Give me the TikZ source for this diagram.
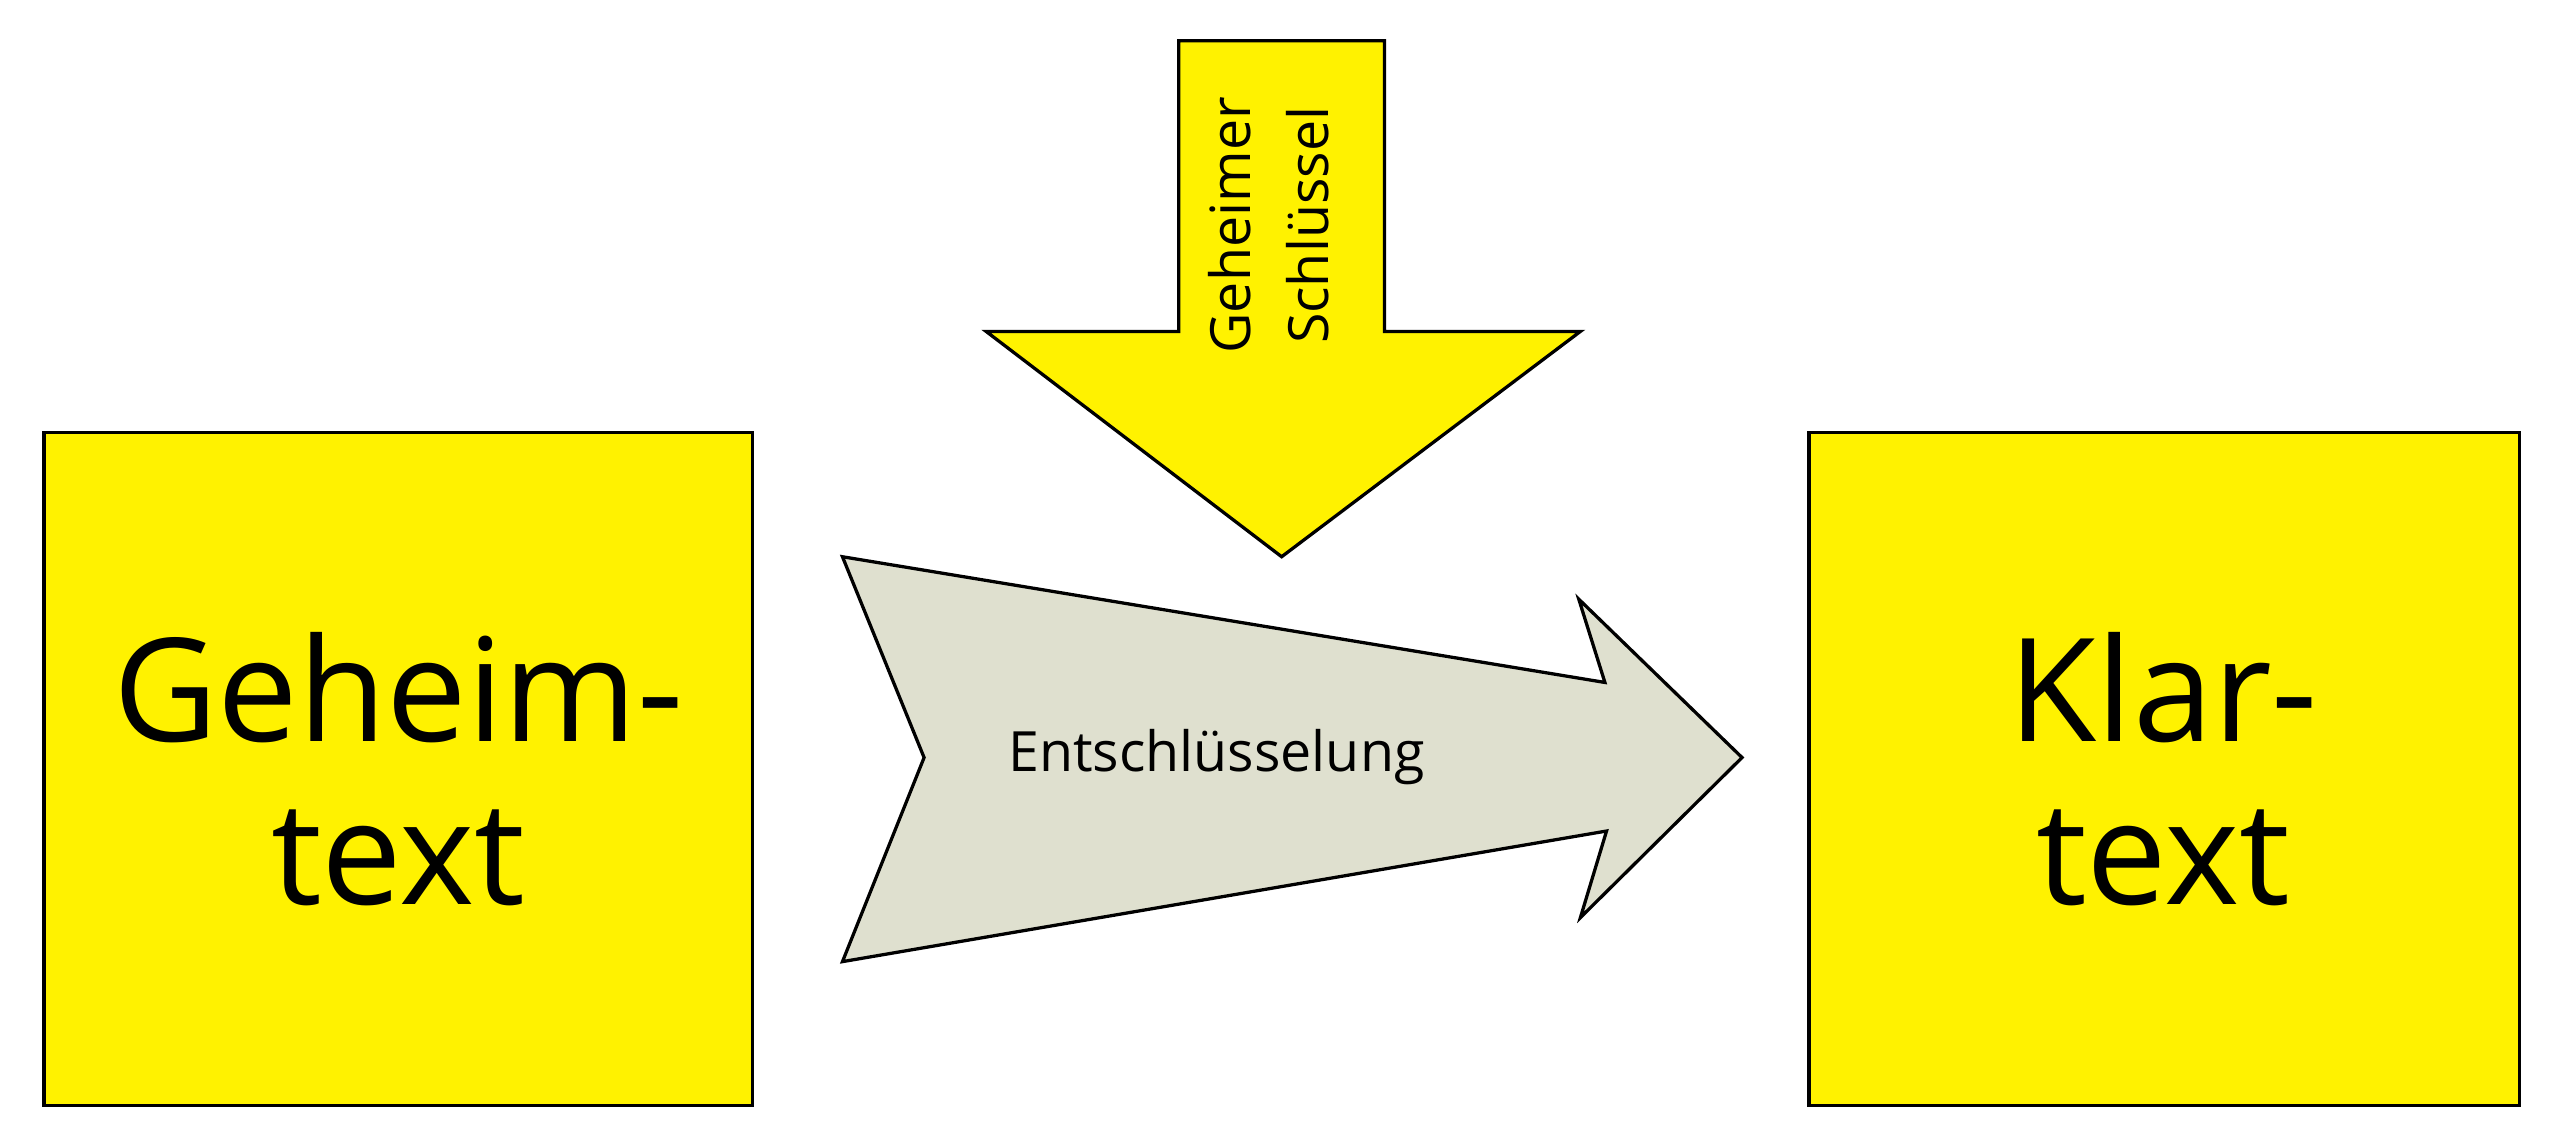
\documentclass[tikz,border=0pt]{standalone}
\usepackage{fontspec}
\setmainfont{Open Sans}
\begin{document}
\begin{tikzpicture}[x=1pt,y=-1pt,
  shp/.style={draw=black,line width=2pt,line join=miter},
  big/.style={font=\fontsize{88}{100}\selectfont,align=center},
  small/.style={font=\fontsize{34}{48}\selectfont,align=center}]
\useasboundingbox (0,0) rectangle (1568,690);
\draw[shp,fill=yellow] (27,265) rectangle (461,677);
\draw[shp,fill=yellow] (1108,265) rectangle (1543,677);
\node[big] (gt) at (244,471) {Geheim-\\text};
\node[big] (kt) at (1325,471) {Klar-\\text};
\draw[shp,fill=yellow] (722,25) -- (848,25) -- (848,203) -- (968,203) -- (785,341) -- (604,203) -- (722,203) -- cycle;
\node[small,rotate=90] (key) at (777,138) {Geheimer\\Schlüssel};
\draw[shp,fill={rgb,255:red,223;green,224;blue,207}] (516,341) -- (983,418) -- (967,367) -- (1067,464) -- (968,562) -- (984,509) -- (516,589) -- (566,464) -- cycle;
\node[small] (ent) at (745,464) {Entschlüsselung};
\end{tikzpicture}
\end{document}
